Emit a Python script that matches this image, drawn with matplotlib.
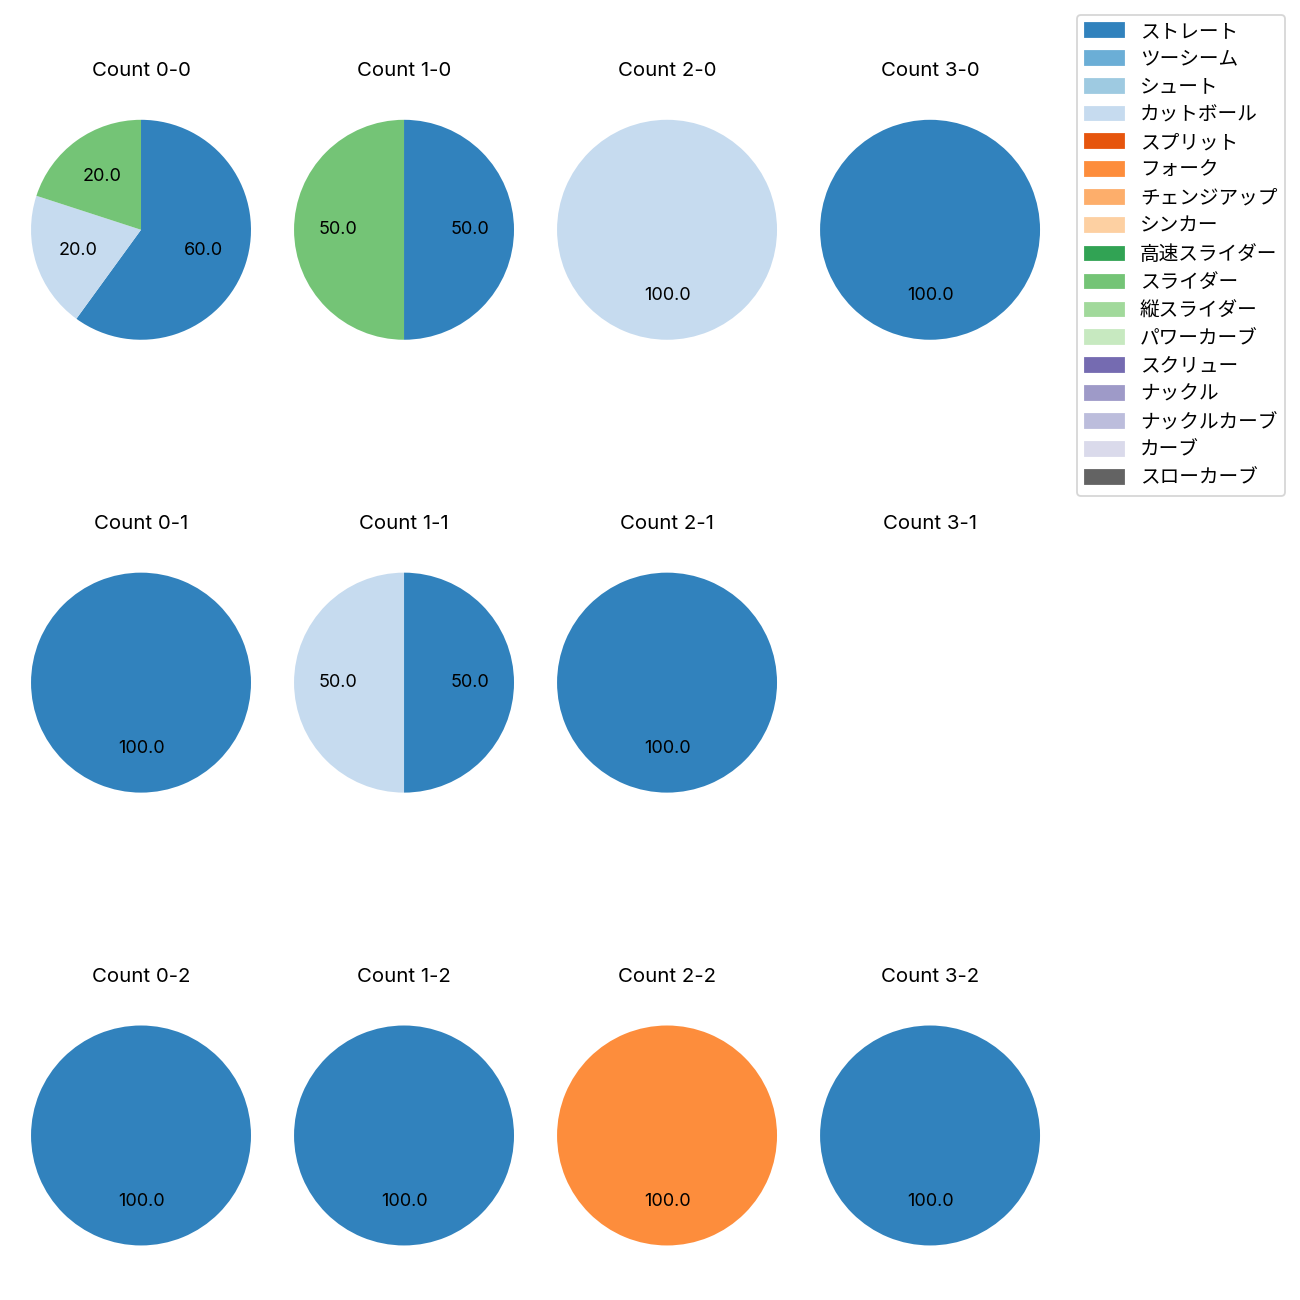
import matplotlib
matplotlib.use("Agg")
import matplotlib.pyplot as plt
import matplotlib.patches as mpatches
import numpy as np

plt.rcParams['font.family'] = ['Inter', 'Noto Sans CJK JP', 'DejaVu Sans']

pitch_types = ['ストレート', 'ツーシーム', 'シュート', 'カットボール', 'スプリット', 'フォーク',
               'チェンジアップ', 'シンカー', '高速スライダー', 'スライダー', '縦スライダー',
               'パワーカーブ', 'スクリュー', 'ナックル', 'ナックルカーブ', 'カーブ', 'スローカーブ']

counts = ['0-0', '1-0', '2-0', '3-0',
          '0-1', '1-1', '2-1', '3-1',
          '0-2', '1-2', '2-2', '3-2']

# percentages per count (same order as counts)
straight = [60, 50, 0, 100, 100, 50, 100, 0, 100, 100, 0, 100]
cutter   = [20, 0, 100, 0, 0, 50, 0, 0, 0, 0, 0, 0]
slider   = [20, 50, 0, 0, 0, 0, 0, 0, 0, 0, 0, 0]
fork     = [0, 0, 0, 0, 0, 0, 0, 0, 0, 0, 100, 0]

series = {'ストレート': straight, 'カットボール': cutter, 'スライダー': slider, 'フォーク': fork}

cmap = plt.get_cmap('tab20c')
colors = {p: cmap(i) for i, p in enumerate(pitch_types)}

fig, axes = plt.subplots(3, 4, figsize=(10, 10))
fig.subplots_adjust(left=0.0027, right=0.8212, wspace=-0.0436,
                    top=0.929, bottom=0.0208, hspace=0.647)

for k, cnt in enumerate(counts):
    ax = axes[k // 4][k % 4]
    vals, cols = [], []
    for p in pitch_types:
        if p in series and series[p][k] > 0:
            vals.append(series[p][k])
            cols.append(colors[p])
    if vals:
        ax.pie(vals, colors=cols, autopct='%.1f', startangle=90, counterclock=False,
               pctdistance=0.6)
    else:
        ax.set_xlim(-1.25, 1.25)
        ax.set_ylim(-1.25, 1.25)
        ax.set_aspect('equal')
        ax.axis('off')
    ax.set_title(f'Count {cnt}', fontsize=11.3, pad=9)

handles = [mpatches.Patch(color=colors[p], label=p) for p in pitch_types]
fig.legend(handles=handles, loc='upper left', bbox_to_anchor=(1077 / 1300, 1 - 15 / 1300),
           borderaxespad=0, fontsize=10.9)

fig.savefig('out.png', dpi=130)
